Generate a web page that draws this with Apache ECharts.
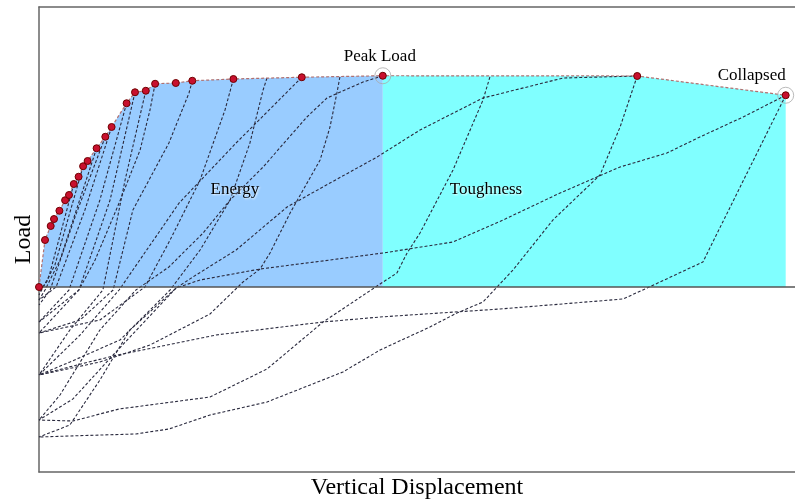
<!DOCTYPE html>
<html>
<head>
<meta charset="utf-8">
<title>Load - Vertical Displacement</title>
<script src="https://cdn.jsdelivr.net/npm/echarts@6.0.0/dist/echarts.min.js"></script>
<style>
  html, body { margin: 0; padding: 0; background: #fff; }
  #main { width: 795px; height: 500px; }
</style>
</head>
<body>
<div id="main"></div>
<script>
// envelope (backbone) points: [displacement, load]
var envelope = [[0,0],[2.0,18.8],[3.9,24.4],[5.0,27.2],[6.8,30.5],[8.7,34.7],[10.0,36.8],
  [11.6,41.2],[13.2,44.1],[14.7,48.3],[16.2,50.4],[19.2,55.5],[22.1,60.1],[24.2,64.0],
  [29.2,73.5],[32.0,77.9],[35.6,78.5],[38.7,81.3],[45.6,81.6],[51.1,82.5],[64.8,83.2],
  [87.6,83.9],[114.6,84.5],[199.4,84.4],[248.9,76.7]];
var peakIndex = 22;
var collapseIndex = 24;

// loading / unloading paths (dashed)
var cycle1 = [[248.9,76.7],[221.3,10],[202.7,-0.4],[194.7,-4.8],[153.7,-8.8],[113.7,-12],[94.7,-14],[59,-19.2],[24.7,-27.6],[10,-32],[0,-35.2]];
var cycle2 = [[248.9,76.7],[234.7,68],[220.3,60],[209.3,53.6],[193.7,48],[173.7,37.6],[154.7,26.8],[138,18],[114.7,13.6],[97,10.8],[73.7,7.2],[53.7,2.8],[45.7,-0.4],[24.7,-27.2],[11.3,-44.8],[0,-53.2]];
var cycle3 = [[199.4,84.4],[193.7,64],[187,44.8],[171.3,26.8],[158,6.8],[148,-6],[139.3,-10.4],[130.3,-16],[113.7,-25.2],[101.3,-34],[76,-46],[57,-51.2],[43.3,-56.8],[32.3,-58.8],[10,-59.6],[0,-60]];
var cycle4 = [[199.4,84.4],[174.7,83.6],[148,75.6],[127,62.8],[112.7,52],[97,41.6],[82.7,32],[65.7,14.8],[51.3,4],[45.7,-0.4],[30.3,-17.2],[20.3,-37.2],[10.3,-55.2],[0,-60]];
var cycle5 = [[150.3,84],[148,74.8],[138,46.8],[127,21.6],[122.7,13.6],[119.3,5.6],[113.7,1.2],[94.7,-14],[76,-32.8],[57,-44],[26.7,-48.8],[11.3,-53.6],[0,-53.2]];
var cycle6 = [[114.6,84.5],[108,82],[96,75.6],[89.3,68],[74.7,48],[63.7,34.8],[54.7,21.6],[43.3,8],[32.3,-1.2],[20.3,-17.2],[7,-43.2],[0,-53.2]];
var cycle7 = [[100.3,84],[99.3,77.6],[97,64],[93.7,50.8],[83.7,29.6],[77,13.6],[73.7,7.2],[68,2],[57,-10.8],[37,-23.2],[20.3,-30],[0,-35.2]];
var cycle8 = [[76,83.6],[74.7,78.8],[70.3,57.6],[63.7,34.8],[53.7,14.8],[43.7,-1.2],[27,-21.2],[10.3,-30],[0,-35.2]];
var cycle9 = [[64.8,83.2],[62,70.8],[53.7,42.8],[43.7,18.8],[35.3,0],[20.3,-13.2],[0,-18.4]];
var cycle10 = [[51.1,82.5],[50,77.6],[43.3,57.6],[31.3,30.8],[24.7,-1.2],[13.7,-13.2],[0,-18.4]];
var cycle11 = [[38.7,81.3],[37,70.8],[33.7,54.8],[26.7,33.6],[18.7,10.8],[13.3,-1.2],[0,-14]];
var cycle12 = [[87.6,83.9],[65.7,57.6],[46.7,33.6],[26.7,-1.2],[13.7,-19.2],[0,-35.2]];
var cycle13 = [[35.6,78.5],[28.7,42.8],[21.3,-1.2],[10.3,-17.2],[0,-35.2]];
var cycle14 = [[32.0,77.9],[23.7,34.8],[13.3,-1.2],[0,-18.4]];
var cycle15 = [[29.2,73.5],[20.3,34.8],[10,-1.2],[0,-14]];
var cycle16 = [[24.2,64.0],[15.3,30.8],[5.7,0],[0,-5.2]];
var cycle17 = [[22.1,60.1],[12,28],[3.7,-1.2],[0,-7.2]];
var cycle18 = [[19.2,55.5],[7,10.8],[2,-1.2],[0,-5.2]];
var cycle19 = [[14.7,48.3],[5.3,8.8],[0,-3.2]];
var cycle20 = [[11.6,41.2],[3,2.8],[0,-2]];

var cycles = [cycle1, cycle2, cycle3, cycle4, cycle5, cycle6, cycle7, cycle8, cycle9, cycle10,
  cycle11, cycle12, cycle13, cycle14, cycle15, cycle16, cycle17, cycle18, cycle19, cycle20];

// region labels
var regionLabels = [{ name: 'Energy', value: [65.3, 38.8] }, { name: 'Toughness', value: [149, 38.8] }];

var xMin = 0, xMax = 252, yMin = -74, yMax = 112;

var myChart = echarts.init(document.getElementById('main'));

var serif = 'Liberation Serif';
var series = [];

// energy area (up to peak)
series.push({
  type: 'line',
  data: envelope.slice(0, peakIndex + 1),
  symbol: 'none',
  lineStyle: { width: 0 },
  areaStyle: { color: '#99ccff', opacity: 1 },
  z: 1,
  silent: true,
  markLine: {
    silent: true,
    symbol: 'none',
    label: { show: false },
    lineStyle: { color: '#555', width: 1.5, type: 'solid' },
    data: [{ yAxis: 0 }]
  }
});
// toughness area (peak to collapse)
series.push({
  type: 'line',
  data: envelope.slice(peakIndex, collapseIndex + 1),
  symbol: 'none',
  lineStyle: { width: 0 },
  areaStyle: { color: '#80ffff', opacity: 1 },
  z: 1,
  silent: true
});

cycles.forEach(function (c) {
  series.push({
    type: 'line',
    data: c,
    symbol: 'none',
    silent: true,
    z: 3,
    lineStyle: { color: '#2a2a3e', width: 1.1, type: [3, 2] }
  });
});

// backbone with red points
series.push({
  type: 'line',
  data: envelope,
  symbol: 'circle',
  symbolSize: 7,
  showAllSymbol: true,
  z: 5,
  silent: true,
  lineStyle: { color: '#b07070', width: 1.2, type: [3, 2] },
  itemStyle: { color: '#c8102e', borderColor: '#700000', borderWidth: 1 }
});

// peak / collapse rings and labels
series.push({
  type: 'scatter',
  data: [
    { value: envelope[peakIndex], name: 'Peak Load', label: { offset: [-3, 3] } },
    { value: envelope[collapseIndex], name: 'Collapsed', label: { offset: [-34, 2] } }
  ],
  symbol: 'circle',
  symbolSize: 16,
  z: 6,
  silent: true,
  itemStyle: { color: 'rgba(0,0,0,0)', borderColor: '#aaaaaa', borderWidth: 1 },
  label: {
    show: true,
    position: 'top',
    formatter: '{b}',
    fontFamily: serif,
    fontSize: 17,
    color: '#000',
    opacity: 1
  }
});

// region names
series.push({
  type: 'scatter',
  data: regionLabels,
  symbolSize: 0,
  z: 7,
  silent: true,
  label: {
    show: true,
    position: 'inside',
    formatter: '{b}',
    fontFamily: serif,
    fontSize: 17,
    color: '#000',
    opacity: 1,
    textShadowColor: 'rgba(255,255,255,0.9)',
    textShadowBlur: 2,
    textShadowOffsetX: 1,
    textShadowOffsetY: 1
  }
});

var option = {
  animation: false,
  backgroundColor: '#fff',
  grid: { left: 39, right: 0, top: 7, bottom: 28, containLabel: false, outerBoundsMode: 'none' },
  xAxis: [{
    type: 'value',
    min: xMin, max: xMax,
    name: 'Vertical Displacement',
    nameLocation: 'middle',
    nameGap: 4,
    nameTextStyle: { fontFamily: serif, fontSize: 24, color: '#000', verticalAlign: 'top' },
    axisLine: { show: true, onZero: false, lineStyle: { color: '#666', width: 1.5 } },
    axisTick: { show: false },
    axisLabel: { show: false },
    splitLine: { show: false }
  }, {
    type: 'value',
    position: 'top',
    min: xMin, max: xMax,
    axisLine: { show: true, onZero: false, lineStyle: { color: '#666', width: 1.5 } },
    axisTick: { show: false },
    axisLabel: { show: false },
    splitLine: { show: false }
  }],
  yAxis: {
    type: 'value',
    min: yMin, max: yMax,
    name: 'Load',
    nameLocation: 'middle',
    nameRotate: 90,
    nameGap: 3,
    nameTextStyle: { fontFamily: serif, fontSize: 24, color: '#000' },
    axisLine: { show: true, onZero: false, lineStyle: { color: '#666', width: 1.5 } },
    axisTick: { show: false },
    axisLabel: { show: false },
    splitLine: { show: false }
  },
  series: series
};

myChart.setOption(option);
window.addEventListener('resize', function () {
  myChart.resize();
});
</script>
</body>
</html>
